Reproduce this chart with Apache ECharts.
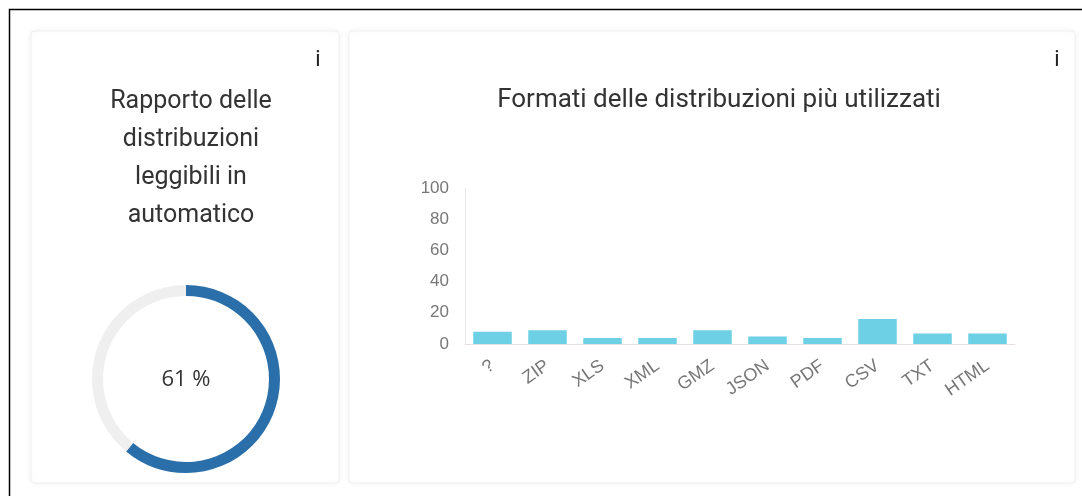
<!DOCTYPE html>
<html>
<head>
<meta charset="utf-8">
<script src="https://cdn.jsdelivr.net/npm/echarts@6/dist/echarts.min.js"></script>
<style>
html,body{margin:0;padding:0;background:#fff;}
#c{width:1082px;height:496px;}
</style>
</head>
<body>
<div id="c"></div>
<script>
const gaugeTitle = "Rapporto delle\ndistribuzioni\nleggibili in\nautomatico";
const barTitle = "Formati delle distribuzioni più utilizzati";
const infoMark = "i";
const ratioValue = 61;
const ratioRest = 39;
const categories = ["?", "ZIP", "XLS", "XML", "GMZ", "JSON", "PDF", "CSV", "TXT", "HTML"];
const barValues = [7.8, 8.8, 3.8, 3.8, 8.8, 4.8, 3.8, 16, 6.8, 6.8];
const yTicks = [0, 20, 40, 60, 80, 100];

const chart = echarts.init(document.getElementById('c'));
chart.setOption({
  animation: false,
  backgroundColor: '#fff',
  graphic: [
    { type: 'polyline', shape: { points: [[9.5, 496], [9.5, 9.5], [1082, 9.5]] }, style: { stroke: '#000', lineWidth: 1.5, fill: null } },
    { type: 'rect', shape: { x: 31, y: 31, width: 308, height: 452, r: 4 }, style: { fill: '#fff', stroke: '#f0f0f0', lineWidth: 1, shadowBlur: 6, shadowColor: 'rgba(0,0,0,0.06)' }, z: -1 },
    { type: 'rect', shape: { x: 349, y: 31, width: 726, height: 452, r: 4 }, style: { fill: '#fff', stroke: '#f0f0f0', lineWidth: 1, shadowBlur: 6, shadowColor: 'rgba(0,0,0,0.06)' }, z: -1 },
    { type: 'text', x: 318, y: 60, style: { text: infoMark, fontSize: 22, fontFamily: 'Roboto', fill: '#222', align: 'center', verticalAlign: 'middle' } },
    { type: 'text', x: 1057, y: 60, style: { text: infoMark, fontSize: 22, fontFamily: 'Roboto', fill: '#222', align: 'center', verticalAlign: 'middle' } },
    { type: 'text', x: 186, y: 380, style: { text: ratioValue + ' %', fontSize: 22, fontFamily: 'Open Sans', fill: '#333', align: 'center', verticalAlign: 'middle' } }
  ],
  title: [
    { text: gaugeTitle, left: 186, top: 78, textAlign: 'center',
      textStyle: { fontFamily: 'Roboto', fontSize: 25, fontWeight: 'normal', color: '#333', lineHeight: 38 } },
    { text: barTitle, left: 714, top: 82, textAlign: 'center',
      textStyle: { fontFamily: 'Roboto', fontSize: 26, fontWeight: 'normal', color: '#333' } }
  ],
  grid: { left: 465, right: 67, top: 188, bottom: 152, containLabel: false },
  xAxis: {
    type: 'category', data: categories,
    axisLine: { lineStyle: { color: '#e6e0e6' } },
    axisTick: { show: false },
    axisLabel: { rotate: 35, color: '#777', fontFamily: 'Liberation Sans', fontSize: 18, margin: 20, interval: 0 }
  },
  yAxis: {
    type: 'value', min: yTicks[0], max: yTicks[yTicks.length - 1], interval: yTicks[1] - yTicks[0],
    axisLine: { show: true, lineStyle: { color: '#e8e8e8' } },
    axisTick: { show: false },
    splitLine: { show: false },
    axisLabel: { color: '#777', fontFamily: 'Liberation Sans', fontSize: 17, margin: 16 }
  },
  series: [
    { type: 'bar', data: barValues, barWidth: '70%', itemStyle: { color: '#6dd0e4' }, silent: true },
    { type: 'pie', center: [186, 379], radius: [83, 94], startAngle: 90, clockwise: true,
      silent: true, label: { show: false }, labelLine: { show: false },
      data: [
        { value: ratioValue, itemStyle: { color: '#2a6fa9' } },
        { value: ratioRest, itemStyle: { color: '#efefef' } }
      ]
    }
  ]
});
</script>
</body>
</html>
